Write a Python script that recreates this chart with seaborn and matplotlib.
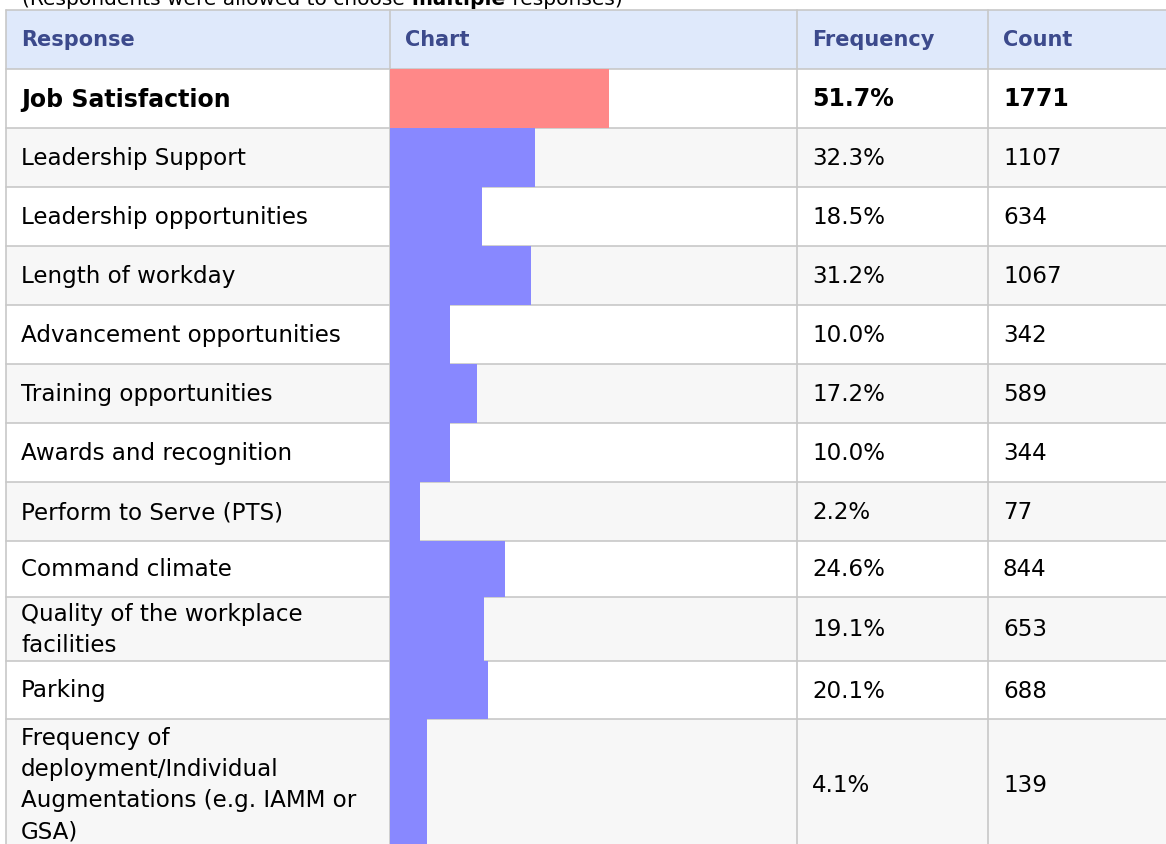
import numpy as np
import pandas as pd
import matplotlib
matplotlib.use("Agg")
import matplotlib.pyplot as plt
import seaborn as sns

responses = [
    "Job Satisfaction",
    "Leadership Support",
    "Leadership opportunities",
    "Length of workday",
    "Advancement opportunities",
    "Training opportunities",
    "Awards and recognition",
    "Perform to Serve (PTS)",
    "Command climate",
    "Quality of the workplace\nfacilities",
    "Parking",
    "Frequency of\ndeployment/Individual\nAugmentations (e.g. IAMM or\nGSA)",
]
frequency = [51.7, 32.3, 18.5, 31.2, 10.0, 17.2, 10.0, 2.2, 24.6, 19.1, 20.1, 4.1]
counts = [1771, 1107, 634, 1067, 342, 589, 344, 77, 844, 653, 688, 139]
headers = ["Response", "Chart", "Frequency", "Count"]
highlight = "Job Satisfaction"
note_parts = ["(Respondents were allowed to choose ", "multiple", " responses)"]

# ---- layout (pixels) ----
W, H = 1166, 844
COL_EDGES = [6, 390, 797, 988, 1200]
ROW_EDGES = [10, 69, 128, 187, 246, 305, 364, 423, 482, 541, 597, 661, 719, 849]
PAD_X = 15
FONT = ["DejaVu Sans"]
FS_HEAD = 15
FS_BODY = 16.6
FS_BOLD = 17
FS_NOTE = 14.5

HEADER_BG = "#dfe9fb"
HEADER_FG = "#3c4a8c"
STRIPE_BG = "#f7f7f7"
GRID = "#c8c8c8"
BAR_RED = "#ff8888"
BAR_BLUE = "#8888ff"
BAR_XLIM = (-5.6, 100.9)


def draw_table(ax):
    """Cell backgrounds, grid lines and all the text of the table."""
    n = len(responses)
    x0, x1 = COL_EDGES[0], COL_EDGES[-1]
    ax.add_patch(plt.Rectangle((x0, ROW_EDGES[0]), x1 - x0, ROW_EDGES[1] - ROW_EDGES[0],
                               facecolor=HEADER_BG, edgecolor="none", zorder=0))
    for i in range(n):
        top, bot = ROW_EDGES[i + 1], ROW_EDGES[i + 2]
        bg = "white" if i % 2 == 0 else STRIPE_BG
        ax.add_patch(plt.Rectangle((x0, top), x1 - x0, bot - top,
                                   facecolor=bg, edgecolor="none", zorder=0))

    for y in ROW_EDGES:
        ax.plot([x0, x1], [y, y], color=GRID, lw=1.2, zorder=1)
    for x in COL_EDGES:
        ax.plot([x, x], [ROW_EDGES[0], ROW_EDGES[-1]], color=GRID, lw=1.2, zorder=1)

    hy = (ROW_EDGES[0] + ROW_EDGES[1]) / 2 + 1
    for j, h in enumerate(headers):
        ax.text(COL_EDGES[j] + PAD_X, hy, h, fontsize=FS_HEAD, fontweight="bold",
                color=HEADER_FG, va="center", ha="left", family=FONT)

    for i, (r, f, c) in enumerate(zip(responses, frequency, counts)):
        cy = (ROW_EDGES[i + 1] + ROW_EDGES[i + 2]) / 2 + 1
        bold = r == highlight
        kw = dict(fontsize=FS_BOLD if bold else FS_BODY,
                  fontweight="bold" if bold else "normal", color="black",
                  va="center", ha="left", family=FONT, linespacing=1.45)
        ax.text(COL_EDGES[0] + PAD_X, cy, r, **kw)
        ax.text(COL_EDGES[2] + PAD_X, cy, f"{f:.1f}%", **kw)
        ax.text(COL_EDGES[3] + PAD_X, cy, f"{c}", **kw)


def draw_note(fig, ax):
    """The clipped note line above the table, with one bold word."""
    renderer = fig.canvas.get_renderer()
    x = COL_EDGES[0] + PAD_X + 1
    for k, part in enumerate(note_parts):
        t = ax.text(x, 5, part, fontsize=FS_NOTE, family=FONT, va="baseline", ha="left",
                    fontweight="bold" if k == 1 else "normal", color="black")
        bb = t.get_window_extent(renderer)
        x += bb.width


def draw_bars(fig):
    """Bars of the Chart column, one per row, filling the row height."""
    centers = [(ROW_EDGES[i + 1] + ROW_EDGES[i + 2]) / 2 for i in range(len(responses))]
    df = pd.DataFrame({
        "response": responses,
        "frequency": frequency,
        "center": centers,
        "group": ["top" if r == highlight else "other" for r in responses],
    })
    left = COL_EDGES[1] / W
    width = (COL_EDGES[2] - COL_EDGES[1]) / W
    bottom = 1 - ROW_EDGES[-1] / H
    height = (ROW_EDGES[-1] - ROW_EDGES[1]) / H
    cax = fig.add_axes([left, bottom, width, height])
    sns.barplot(data=df, x="frequency", y="center", hue="group", orient="h",
                native_scale=True, dodge=False, palette={"top": BAR_RED, "other": BAR_BLUE},
                saturation=1, errorbar=None, legend=False, width=0.9, ax=cax,
                linewidth=0)
    # bars start at the cell edge and fill their whole row
    for p in cax.patches:
        mid = p.get_y() + p.get_height() / 2
        i = int(np.argmin(np.abs(np.array(centers) - mid)))
        p.set_y(ROW_EDGES[i + 1])
        p.set_height(ROW_EDGES[i + 2] - ROW_EDGES[i + 1])
        w = p.get_width()
        p.set_x(BAR_XLIM[0])
        p.set_width(w - BAR_XLIM[0])
        p.set_zorder(3)
    cax.set_xlim(*BAR_XLIM)
    cax.set_ylim(ROW_EDGES[-1], ROW_EDGES[1])
    cax.axis("off")
    cax.patch.set_alpha(0)
    return cax


sns.set_theme(style="white")
plt.rcParams["font.family"] = FONT

fig = plt.figure(figsize=(W / 100, H / 100), dpi=100)
ax = fig.add_axes([0, 0, 1, 1])
ax.set_xlim(0, W)
ax.set_ylim(H, 0)
ax.axis("off")

draw_table(ax)
draw_note(fig, ax)
draw_bars(fig)

fig.savefig("out.png", dpi=100)
